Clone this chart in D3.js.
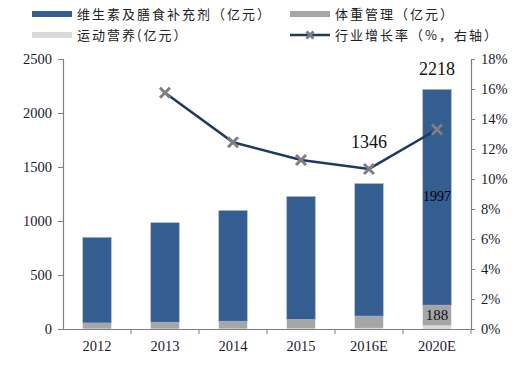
<!DOCTYPE html>
<html><head><meta charset="utf-8">
<script src="https://cdn.jsdelivr.net/npm/d3@7"></script>
<style>body{margin:0;background:#fff}</style>
</head><body><svg id="c" width="520" height="366"></svg>
<script>
const categories = ["2012","2013","2014","2015","2016E","2020E"];
const supplements = [792, 921, 1025, 1137, 1226, 1997];
const weightMgmt = [53, 60, 68, 84, 110, 188];
const sportsNutrition = [3, 3, 4, 5, 10, 33];
const growth = [null, 15.75, 12.45, 11.27, 10.67, 13.3];
const leftTicks = [0, 500, 1000, 1500, 2000, 2500];
const rightTicks = [0, 2, 4, 6, 8, 10, 12, 14, 16, 18];

const svg = d3.select("#c");
const L = 63, R = 471, T = 59, B = 329;
const x = d3.scaleBand().domain(categories).range([L, R]).paddingInner(0).paddingOuter(0);
const yL = d3.scaleLinear().domain([0, 2500]).range([B, T]);
const yR = d3.scaleLinear().domain([0, 18]).range([B, T]);
const serif = "'Liberation Serif','Times New Roman',serif";
const cjk = "'Noto Sans CJK SC',sans-serif";
const cBlue = "#345e90", cGray = "#a6a6a6", cLight = "#d9d9d9", cLine = "#1c3a60", cMark = "#7f7f7f";

const bw = 28.5;
const rows = categories.map((c, i) => ({c, s: sportsNutrition[i], w: weightMgmt[i], v: supplements[i]}));
const g = svg.append("g");
rows.forEach(d => {
  const cx = x(d.c) + x.bandwidth() / 2;
  const segs = [[0, d.s, cLight], [d.s, d.s + d.w, cGray], [d.s + d.w, d.s + d.w + d.v, cBlue]];
  segs.forEach(([a, b, col]) => {
    g.append("rect").attr("x", cx - bw / 2).attr("width", bw)
      .attr("y", yL(b)).attr("height", yL(a) - yL(b))
      .attr("fill", col).attr("stroke", col === cBlue ? "#9fb3cc" : "none").attr("stroke-width", 0.6);
  });
});

// axes
const axL = svg.append("g").attr("transform", `translate(${L},0)`)
  .call(d3.axisLeft(yL).tickValues(leftTicks).tickSize(5).tickPadding(6).tickFormat(d3.format("d")));
const axR = svg.append("g").attr("transform", `translate(${R},0)`)
  .call(d3.axisRight(yR).tickValues(rightTicks).tickSize(4).tickPadding(6).tickFormat(d => d + "%"));
const axB = svg.append("g").attr("transform", `translate(0,${B})`)
  .call(d3.axisBottom(x).tickSize(0).tickPadding(12));
[axL, axR, axB].forEach(a => {
  a.select(".domain").attr("stroke", "#7f7f7f").attr("stroke-width", 1.2);
  a.selectAll(".tick line").attr("stroke", "#7f7f7f");
  a.selectAll("text").attr("font-family", serif).attr("font-size", 14.5).attr("fill", "#1a1a2e");
});
// bottom ticks at band boundaries
const bounds = categories.slice(1).map(c => x(c)).concat([R]);
svg.append("g").selectAll("line").data(bounds).join("line")
  .attr("x1", d => d).attr("x2", d => d).attr("y1", B).attr("y2", B + 5)
  .attr("stroke", "#7f7f7f");

// growth line
const pts = categories.map((c, i) => ({c, v: growth[i]})).filter(d => d.v != null);
const line = d3.line().x(d => x(d.c) + x.bandwidth() / 2).y(d => yR(d.v));
svg.append("path").datum(pts).attr("d", line).attr("fill", "none")
  .attr("stroke", cLine).attr("stroke-width", 2.5);
const cross = (sel, cx, cy, s) => {
  sel.append("path").attr("d", `M${cx - s},${cy - s}L${cx + s},${cy + s}M${cx - s},${cy + s}L${cx + s},${cy - s}`)
    .attr("stroke", cMark).attr("stroke-width", 3);
};
pts.forEach(d => cross(svg, x(d.c) + x.bandwidth() / 2, yR(d.v), 5));

// data labels
const cx5 = x("2020E") + x.bandwidth() / 2, cx4 = x("2016E") + x.bandwidth() / 2;
const tot5 = supplements[5] + weightMgmt[5] + sportsNutrition[5];
const tot4 = supplements[4] + weightMgmt[4] + sportsNutrition[4];
svg.append("text").attr("x", cx5).attr("y", yL(tot5) - 14).attr("text-anchor", "middle")
  .attr("font-family", serif).attr("font-size", 18).attr("fill", "#111").text(tot5);
svg.append("text").attr("x", cx4).attr("y", 148).attr("text-anchor", "middle")
  .attr("font-family", serif).attr("font-size", 18).attr("fill", "#111").text(tot4);
svg.append("text").attr("x", cx5).attr("y", yL(sportsNutrition[5] + weightMgmt[5] + supplements[5] / 2) + 4).attr("text-anchor", "middle")
  .attr("font-family", serif).attr("font-size", 14).attr("fill", "#000").text(supplements[5]);
svg.append("text").attr("x", cx5).attr("y", yL(sportsNutrition[5] + weightMgmt[5] / 2) + 5).attr("text-anchor", "middle")
  .attr("font-family", serif).attr("font-size", 15).attr("fill", "#111").text(weightMgmt[5]);

// legend
const leg = [
  {x: 32, y: 14, t: "维生素及膳食补充剂（亿元）", type: "rect", col: cBlue},
  {x: 290, y: 14, t: "体重管理（亿元）", type: "rect", col: cGray},
  {x: 32, y: 35, t: "运动营养(亿元）", type: "rect", col: cLight},
  {x: 290, y: 35, t: "行业增长率（%，右轴）", type: "line", col: cLine}
];
leg.forEach(d => {
  if (d.type === "rect") {
    svg.append("rect").attr("x", d.x).attr("y", d.y - 3).attr("width", 40).attr("height", 6).attr("fill", d.col);
  } else {
    svg.append("line").attr("x1", d.x).attr("x2", d.x + 40).attr("y1", d.y).attr("y2", d.y)
      .attr("stroke", d.col).attr("stroke-width", 2.5);
    cross(svg, d.x + 20, d.y, 3.5);
  }
  svg.append("text").attr("x", d.x + 45).attr("y", d.y + 5).attr("font-family", cjk)
    .attr("font-size", 13).attr("letter-spacing", 2).attr("fill", "#222").text(d.t);
});
</script></body></html>
